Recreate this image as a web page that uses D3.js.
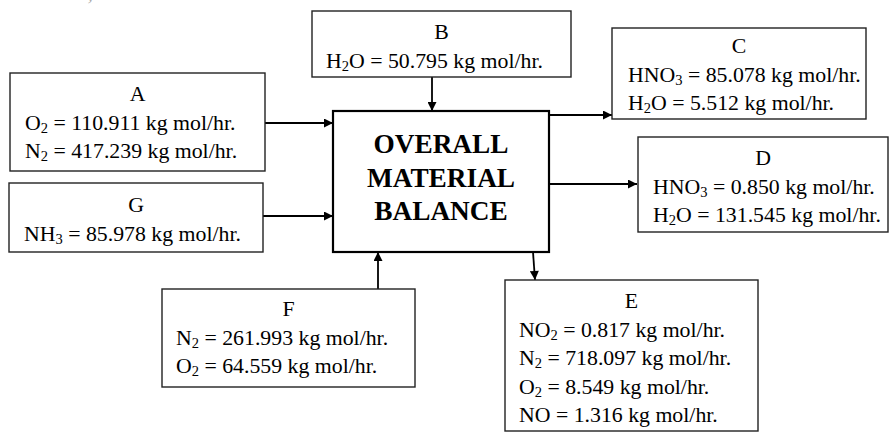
<!DOCTYPE html>
<html>
<head>
<meta charset="utf-8">
<script src="https://cdn.jsdelivr.net/npm/d3@7"></script>
<style>
  body { margin: 0; background: #fff; }
  svg { display: block; }
  svg text { font-family: "Liberation Serif", "Times New Roman", Times, "DejaVu Serif", serif; }
</style>
</head>
<body>
<div id="chart"></div>
<script>
// stream names and their contents
const streams = ["A", "B", "C", "D", "E", "F", "G"];
const formulas = {
  A: ["O2", "N2"],
  B: ["H2O"],
  C: ["HNO3", "H2O"],
  D: ["HNO3", "H2O"],
  E: ["NO2", "N2", "O2", "NO"],
  F: ["N2", "O2"],
  G: ["NH3"]
};
const flows = {
  A: ["110.911", "417.239"],
  B: ["50.795"],
  C: ["85.078", "5.512"],
  D: ["0.850", "131.545"],
  E: ["0.817", "718.097", "8.549", "1.316"],
  F: ["261.993", "64.559"],
  G: ["85.978"]
};
const unit = "kg mol/hr.";
const centerTitle = ["OVERALL", "MATERIAL", "BALANCE"];

// layout of boxes (x0, y0, x1, y1, text left, label baseline)
const layout = {
  A: { x0: 10, y0: 73, x1: 265, y1: 171, tx: 25, by: 101 },
  B: { x0: 312, y0: 11, x1: 571, y1: 77, tx: 326, by: 39 },
  C: { x0: 612, y0: 28, x1: 866, y1: 119, tx: 628, by: 53 },
  D: { x0: 638, y0: 137, x1: 888, y1: 232, tx: 653, by: 165 },
  E: { x0: 505, y0: 280, x1: 758, y1: 431, tx: 519, by: 308 },
  F: { x0: 162, y0: 289, x1: 415, y1: 387, tx: 176, by: 316 },
  G: { x0: 9, y0: 183, x1: 263, y1: 252, tx: 24, by: 212 }
};
const main = { x0: 333, y0: 111, x1: 549, y1: 252 };

// arrows: [from, to]
const arrows = [
  [[265, 123], [333, 123]],
  [[263, 216], [333, 216]],
  [[432, 77], [432, 111]],
  [[378, 289], [378, 252]],
  [[549, 115], [612, 115]],
  [[549, 184], [637, 184]],
  [[533, 252], [535, 280]]
];

const width = 889, height = 432;
const lineGap = 28.5;
const fontSize = 21.8;

const svg = d3.select("#chart").append("svg")
  .attr("width", width)
  .attr("height", height);

svg.append("defs").append("marker")
  .attr("id", "head")
  .attr("viewBox", "0 0 10 10")
  .attr("refX", 10)
  .attr("refY", 5)
  .attr("markerWidth", 10)
  .attr("markerHeight", 9)
  .attr("markerUnits", "userSpaceOnUse")
  .attr("orient", "auto")
  .append("path")
  .attr("d", "M0,0 L10,5 L0,10 Z")
  .attr("fill", "#000");

// clipped line of text from the page above
svg.append("text")
  .attr("x", 93)
  .attr("y", 0)
  .attr("text-anchor", "end")
  .attr("font-size", fontSize)
  .attr("fill", "#aaa")
  .text("material balance is,");

const lineGen = d3.line();

svg.append("g")
  .selectAll("path")
  .data(arrows)
  .join("path")
  .attr("d", (d) => lineGen(d))
  .attr("stroke", "#000")
  .attr("stroke-width", 1.8)
  .attr("fill", "none")
  .attr("marker-end", "url(#head)");

// central block
svg.append("rect")
  .attr("x", main.x0)
  .attr("y", main.y0)
  .attr("width", main.x1 - main.x0)
  .attr("height", main.y1 - main.y0)
  .attr("fill", "#fff")
  .attr("stroke", "#000")
  .attr("stroke-width", 2.2);

svg.append("g")
  .selectAll("text")
  .data(centerTitle)
  .join("text")
  .attr("x", (main.x0 + main.x1) / 2)
  .attr("y", (d, i) => 153 + i * 33.5)
  .attr("text-anchor", "middle")
  .attr("font-weight", "bold")
  .attr("font-size", 27.3)
  .text((d) => d);

// split "HNO3" into pieces, digits become subscripts
const pieces = (f) => f.match(/[A-Za-z]+|\d+/g).map((p) => ({ t: p, sub: /\d/.test(p) }));

const box = svg.append("g")
  .selectAll("g")
  .data(streams)
  .join("g");

box.append("rect")
  .attr("x", (d) => layout[d].x0)
  .attr("y", (d) => layout[d].y0)
  .attr("width", (d) => layout[d].x1 - layout[d].x0)
  .attr("height", (d) => layout[d].y1 - layout[d].y0)
  .attr("fill", "#fff")
  .attr("stroke", "#222")
  .attr("stroke-width", 1.4);

box.append("text")
  .attr("x", (d) => (layout[d].x0 + layout[d].x1) / 2)
  .attr("y", (d) => layout[d].by)
  .attr("text-anchor", "middle")
  .attr("font-size", fontSize)
  .text((d) => d);

box.each(function (s) {
  const g = d3.select(this);
  formulas[s].forEach((f, i) => {
    const t = g.append("text")
      .attr("x", layout[s].tx)
      .attr("y", layout[s].by + (i + 1) * lineGap)
      .attr("font-size", fontSize);
    let shifted = false;
    pieces(f).forEach((p) => {
      const span = t.append("tspan").text(p.t);
      if (p.sub) {
        span.attr("font-size", 14.5).attr("dy", 3);
        shifted = true;
      } else if (shifted) {
        span.attr("dy", -3);
        shifted = false;
      }
    });
    t.append("tspan")
      .attr("dy", shifted ? -3 : 0)
      .text(` = ${flows[s][i]} ${unit}`);
  });
});
</script>
</body>
</html>
